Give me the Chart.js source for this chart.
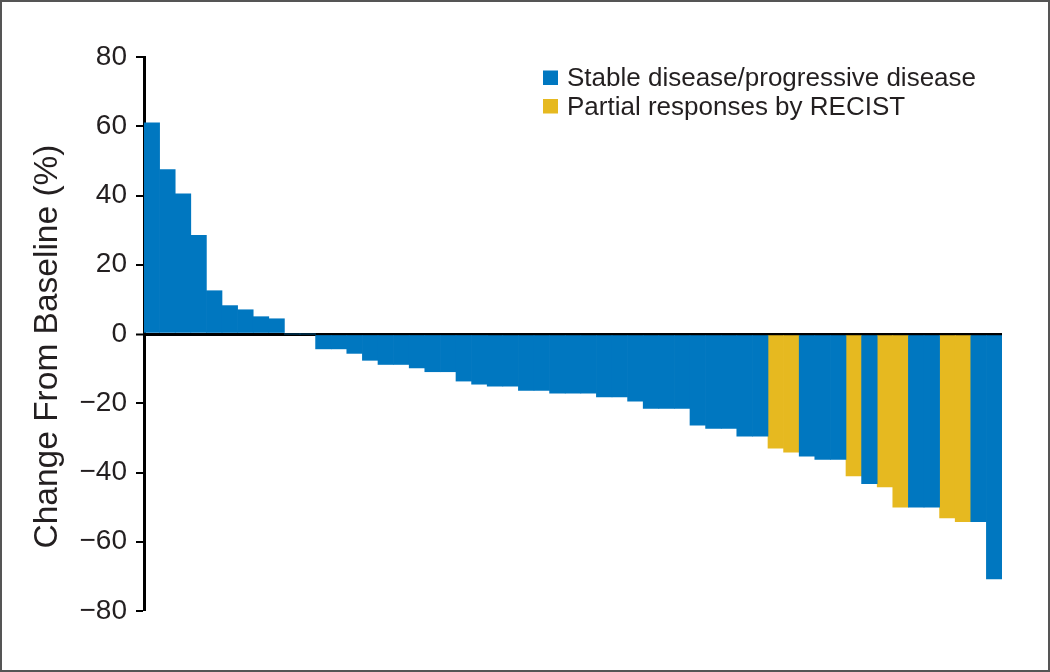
<!DOCTYPE html>
<html>
<head>
<meta charset="utf-8">
<script src="https://cdn.jsdelivr.net/npm/chart.js@4/dist/chart.umd.min.js"></script>
<style>
  html, body { margin: 0; padding: 0; background: #fff; }
  #wrap { width: 1050px; height: 672px; }
</style>
</head>
<body>
<div id="wrap"><canvas id="c" width="1050" height="672"></canvas></div>
<script>
// ---- data ----
const patients = Array.from({length: 55}, (_, i) => 'P' + (i + 1));
const changeFromBaseline = [
  61, 47.5, 40.5, 28.5, 12.5, 8.2, 7.0, 5.0, 4.4,
  0, 0,
  -4.3, -4.3, -5.6, -7.6, -8.8, -8.8, -9.8, -10.9, -10.9, -13.6, -14.5, -15.1, -15.1, -16.3, -16.3,
  -17.1, -17.1, -17.1, -18.2, -18.2, -19.4, -21.5, -21.5, -21.5, -26.3, -27.3, -27.3, -29.5, -29.5,
  -33.0, -34.1, -35.3, -36.2, -36.2, -41.0, -43.2, -44.2, -50.0, -50.0, -50.0, -53.1, -54.2, -54.2, -70.7
];
// 'SD' = stable/progressive disease, 'PR' = partial response
const responseType = [
  'SD','SD','SD','SD','SD','SD','SD','SD','SD',
  'SD','SD',
  'SD','SD','SD','SD','SD','SD','SD','SD','SD','SD','SD','SD','SD','SD','SD',
  'SD','SD','SD','SD','SD','SD','SD','SD','SD','SD','SD','SD','SD','SD',
  'PR','PR','SD','SD','SD','PR','SD','PR','PR','SD','SD','PR','PR','SD','SD'
];
const seriesLabels = ['Stable disease/progressive disease', 'Partial responses by RECIST'];
const yAxisTitle = 'Change From Baseline (%)';
const yTickRange = { min: -80, max: 80, step: 20 };

const sdValues = changeFromBaseline.map((v, i) => responseType[i] === 'SD' ? v : null);
const prValues = changeFromBaseline.map((v, i) => responseType[i] === 'PR' ? v : null);

const BLUE = '#0077c0';
const YELLOW = '#e6b920';
const TEXT = '#231f20';
const FONT = "'Liberation Sans', Arial, Helvetica, sans-serif";

const legendPlugin = {
  id: 'customLegend',
  afterDraw(chart) {
    const ctx = chart.ctx;
    const ca = chart.chartArea;
    const x0 = ca.left + 399;
    const rows = [ca.top + 29, ca.top + 57.5];
    ctx.save();
    chart.data.datasets.forEach((ds, i) => {
      const base = rows[i];
      ctx.fillStyle = ds.backgroundColor;
      ctx.fillRect(x0, base - 15.5, 15, 14.5);
      ctx.fillStyle = TEXT;
      ctx.font = "26px " + FONT;
      ctx.textBaseline = 'alphabetic';
      ctx.textAlign = 'left';
      ctx.fillText(ds.label, x0 + 24, base);
    });
    ctx.restore();
  }
};

const axisTitlePlugin = {
  id: 'axisTitle',
  afterDraw(chart) {
    const ctx = chart.ctx;
    const ca = chart.chartArea;
    ctx.save();
    ctx.translate(ca.left - 87, (ca.top + ca.bottom) / 2 + 12.5);
    ctx.rotate(-Math.PI / 2);
    ctx.fillStyle = TEXT;
    ctx.font = "33.5px " + FONT;
    ctx.textAlign = 'center';
    ctx.textBaseline = 'alphabetic';
    ctx.fillText(yAxisTitle, 0, 0);
    ctx.restore();
  }
};

const framePlugin = {
  id: 'frame',
  afterDraw(chart) {
    const ctx = chart.ctx;
    ctx.save();
    ctx.strokeStyle = '#555';
    ctx.lineWidth = 2;
    ctx.strokeRect(1, 1, chart.width - 2, chart.height - 2);
    ctx.restore();
  }
};

new Chart(document.getElementById('c'), {
  type: 'bar',
  data: {
    labels: patients,
    datasets: [
      { label: seriesLabels[0], data: sdValues, backgroundColor: BLUE, borderWidth: 0,
        barPercentage: 1, categoryPercentage: 1 },
      { label: seriesLabels[1], data: prValues, backgroundColor: YELLOW, borderWidth: 0,
        barPercentage: 1, categoryPercentage: 1 }
    ]
  },
  options: {
    responsive: false,
    devicePixelRatio: 1,
    animation: false,
    layout: { padding: { left: 0, top: 57, right: 48, bottom: 61 } },
    plugins: { legend: { display: false }, tooltip: { enabled: false } },
    scales: {
      x: { stacked: true, display: false },
      y: {
        stacked: true,
        min: yTickRange.min, max: yTickRange.max,
        z: 1,
        afterFit(scale) { scale.width = 144; },
        border: { display: true, color: '#000', width: 3 },
        grid: {
          drawOnChartArea: true,
          color: c => (c.tick && c.tick.value === 0) ? '#000' : 'rgba(0,0,0,0)',
          lineWidth: c => (c.tick && c.tick.value === 0) ? 3 : 0,
          drawTicks: true,
          tickLength: 8,
          tickWidth: 2,
          tickColor: '#000'
        },
        ticks: {
          stepSize: yTickRange.step,
          padding: 9,
          color: TEXT,
          font: { family: FONT, size: 28 },
          callback: v => String(v).replace('-', '\u2212')
        },
        title: { display: false }
      }
    }
  },
  plugins: [legendPlugin, axisTitlePlugin, framePlugin]
});
</script>
</body>
</html>
